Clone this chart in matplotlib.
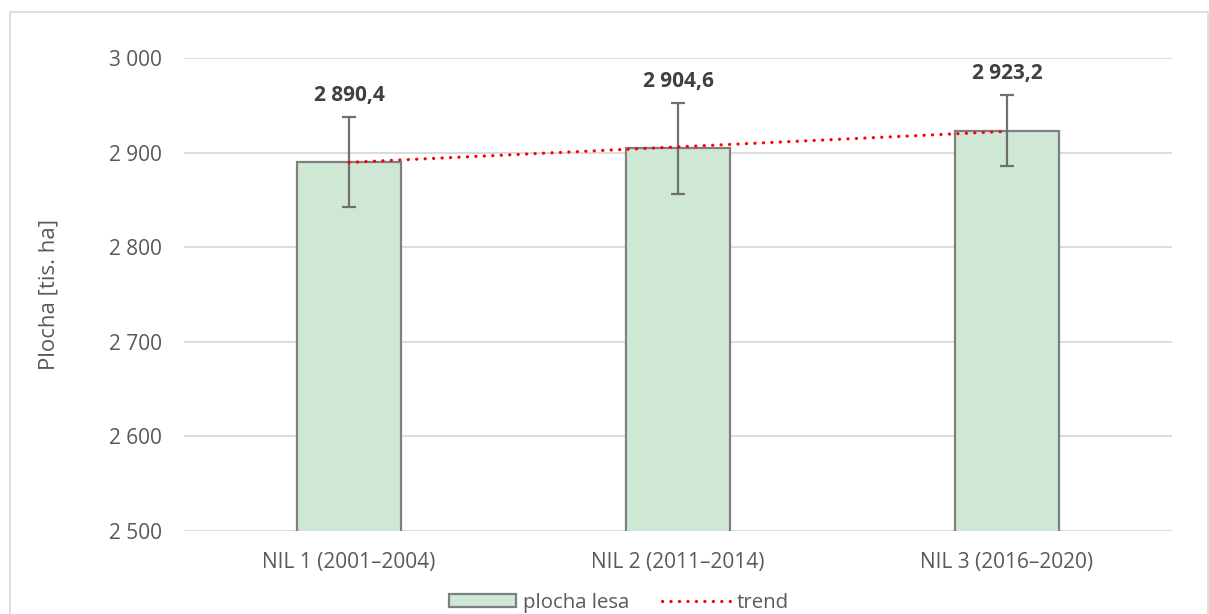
import numpy as np
import matplotlib
matplotlib.use("Agg")
import matplotlib.pyplot as plt
from matplotlib.ticker import FuncFormatter
from matplotlib.patches import Rectangle

# data
categories = ["NIL 1 (2001\u20132004)", "NIL 2 (2011\u20132014)", "NIL 3 (2016\u20132020)"]
area = [2890.4, 2904.6, 2923.2]
err = [47.5, 48.0, 37.5]
value_labels = ["2 890,4", "2 904,6", "2 923,2"]

plt.rcParams['font.family'] = ['Open Sans', 'DejaVu Sans']

fig = plt.figure(figsize=(12.09, 6.14), dpi=100)
ax = fig.add_axes([0.1526, 0.1352, 0.8164, 0.7703])

x = np.arange(len(categories))
bars = ax.bar(x, area, width=0.316, color='#cfe8d6', edgecolor='#7f7f7f', linewidth=1.6,
              zorder=3, label='plocha lesa')
ax.errorbar(x, area, yerr=err, fmt='none', ecolor='#6f6f6f', elinewidth=1.6,
            capsize=4.8, capthick=1.6, zorder=4)

# linear trend through the three values
k, q = np.polyfit(x, area, 1)
trend, = ax.plot(x, k * x + q, color='#ff0000', linewidth=2.3, linestyle=(0, (0.05, 2.6)),
                 dash_capstyle='round', zorder=5, label='trend')

for xi, v, e, lab in zip(x, area, err, value_labels):
    ax.annotate(lab, (xi, v + e), xytext=(0, 8), textcoords='offset points',
                ha='center', va='bottom', fontsize=15, fontweight='bold', color='#404040')

ax.set_ylim(2500, 3000)
ax.set_xlim(-0.5, 2.5)
ax.set_yticks(np.arange(2500, 3001, 100))
ax.yaxis.set_major_formatter(FuncFormatter(lambda v, p: f"{int(v):,}".replace(",", " ")))
ax.set_xticks(x)
ax.set_xticklabels(categories)
ax.tick_params(axis='both', length=0, labelsize=15, colors='#595959')
ax.tick_params(axis='y', pad=16)
ax.tick_params(axis='x', pad=15)
ax.grid(axis='y', color='#d9d9d9', linewidth=1.3, zorder=0)
for s in ax.spines.values():
    s.set_visible(False)
ax.set_ylabel('Plocha [tis. ha]', fontsize=16, color='#595959', labelpad=36)

ax.legend([bars, trend], ['plocha lesa', 'trend'], loc='lower center',
          bbox_to_anchor=(0.512, -0.028), bbox_transform=fig.transFigure,
          ncol=2, frameon=False, fontsize=14.7, handlelength=3.3, handleheight=0.65,
          columnspacing=1.6, handletextpad=0.35, labelcolor='#595959')

# light frame around the chart area
fig.patches.append(Rectangle((10 / 1209, -0.05), 1198 / 1209, 1.05 - 12 / 614,
                             transform=fig.transFigure, fill=False,
                             edgecolor='#d9d9d9', linewidth=1.2))

fig.savefig("out.png", dpi=100)
